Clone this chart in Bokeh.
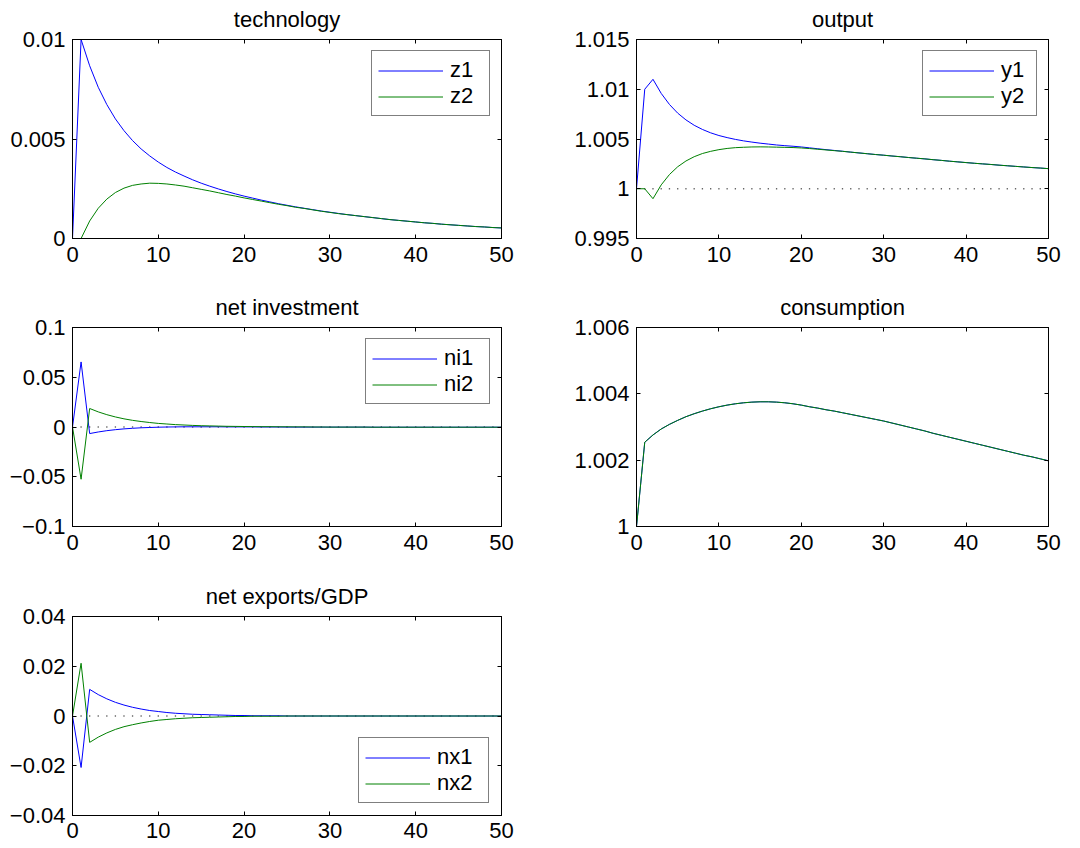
from bokeh.plotting import figure
from bokeh.layouts import column, row
from bokeh.models import Range1d, LinearAxis, FixedTicker, Legend
from bokeh.embed import file_html
from bokeh.resources import INLINE

T = list(range(0, 51))
X_TICKS = [0, 10, 20, 30, 40, 50]

Z1 = [0.0, 0.01, 0.00868, 0.00760, 0.00673, 0.00601, 0.00542, 0.00492, 0.00450, 0.00415, 0.00384,
      0.00357, 0.00334, 0.00314, 0.00295, 0.00278, 0.00263, 0.00249, 0.00236, 0.00224, 0.00213,
      0.00203, 0.00193, 0.00184, 0.00175, 0.00167, 0.00159, 0.00152, 0.00145, 0.00138, 0.00132,
      0.00126, 0.00120, 0.00115, 0.00110, 0.00105, 0.00100, 0.00095, 0.00091, 0.00087, 0.00083,
      0.00079, 0.00076, 0.00072, 0.00069, 0.00066, 0.00063, 0.00060, 0.00058, 0.00055, 0.00053]
Z2 = [0.0, 0.0, 0.00088, 0.00152, 0.00198, 0.00231, 0.00253, 0.00267, 0.00274, 0.00278, 0.00277,
      0.00274, 0.00269, 0.00263, 0.00255, 0.00247, 0.00239, 0.00230, 0.00221, 0.00213, 0.00204,
      0.00196, 0.00188, 0.00180, 0.00172, 0.00165, 0.00157, 0.00151, 0.00144, 0.00137, 0.00131,
      0.00125, 0.00120, 0.00115, 0.00110, 0.00105, 0.00100, 0.00095, 0.00091, 0.00087, 0.00083,
      0.00079, 0.00076, 0.00072, 0.00069, 0.00066, 0.00063, 0.00060, 0.00058, 0.00055, 0.00053]

Y1 = [1.0, 1.0100, 1.0110, 1.00958, 1.00847, 1.00760, 1.00692, 1.00638, 1.00596, 1.00562, 1.00535,
      1.00514, 1.00496, 1.00481, 1.00469, 1.00458, 1.00449, 1.00440, 1.00433, 1.00427, 1.00420,
      1.00411, 1.00402, 1.00393, 1.00385, 1.00377, 1.00368, 1.00360, 1.00352, 1.00344, 1.00337,
      1.00329, 1.00322, 1.00314, 1.00307, 1.00300, 1.00292, 1.00285, 1.00277, 1.00270, 1.00263,
      1.00256, 1.00250, 1.00244, 1.00237, 1.00231, 1.00225, 1.00219, 1.00213, 1.00208, 1.00202]
Y2 = [1.0, 1.0, 0.99900, 1.00039, 1.00143, 1.00221, 1.00279, 1.00322, 1.00354, 1.00376, 1.00393,
      1.00405, 1.00413, 1.00417, 1.00420, 1.00421, 1.00420, 1.00418, 1.00416, 1.00414, 1.00410,
      1.00404, 1.00397, 1.00390, 1.00383, 1.00376, 1.00368, 1.00360, 1.00352, 1.00344, 1.00337,
      1.00329, 1.00322, 1.00314, 1.00307, 1.00300, 1.00292, 1.00285, 1.00277, 1.00270, 1.00263,
      1.00256, 1.00250, 1.00244, 1.00237, 1.00231, 1.00225, 1.00219, 1.00213, 1.00208, 1.00202]

NI1 = [0.0, 0.0654, -0.0066, -0.0050, -0.0037, -0.0027, -0.0019, -0.0013, -0.0008, -0.0005, -0.0002,
       0.0000, 0.0001, 0.0002, 0.0002, 0.0002, 0.0002, 0.0002, 0.0001, 0.0001, 0.0001,
       0.0001, 0.0000, 0.0000, 0.0000, -0.0001, -0.0001, -0.0001, -0.0001, -0.0001, -0.0001,
       -0.0001, -0.0001, -0.0001, -0.0001, -0.0002, -0.0002, -0.0002, -0.0002, -0.0002, -0.0002,
       -0.0002, -0.0002, -0.0002, -0.0002, -0.0002, -0.0002, -0.0002, -0.0002, -0.0002, -0.0002]
NI2 = [0.0, -0.0525, 0.0186, 0.0152, 0.0124, 0.0101, 0.0082, 0.0067, 0.0055, 0.0045, 0.0036,
       0.0030, 0.0024, 0.0020, 0.0016, 0.0013, 0.0011, 0.0009, 0.0007, 0.0006, 0.0005,
       0.0004, 0.0003, 0.0003, 0.0002, 0.0002, 0.0001, 0.0001, 0.0000, 0.0000, -0.0001,
       -0.0001, -0.0001, -0.0001, -0.0001, -0.0002, -0.0002, -0.0002, -0.0002, -0.0002, -0.0002,
       -0.0002, -0.0002, -0.0002, -0.0002, -0.0002, -0.0002, -0.0002, -0.0002, -0.0002, -0.0002]

C1 = [1.0, 1.00254, 1.00276, 1.00294, 1.00308, 1.00320, 1.00331, 1.00340, 1.00348, 1.00355, 1.00361,
      1.00366, 1.00370, 1.00373, 1.00375, 1.00376, 1.00376, 1.00375, 1.00373, 1.00370, 1.00366,
      1.00361, 1.00357, 1.00352, 1.00348, 1.00343, 1.00338, 1.00333, 1.00328, 1.00323, 1.00318,
      1.00312, 1.00306, 1.00300, 1.00294, 1.00288, 1.00281, 1.00275, 1.00269, 1.00263, 1.00257,
      1.00251, 1.00245, 1.00239, 1.00233, 1.00227, 1.00221, 1.00215, 1.00210, 1.00204, 1.00198]
C2 = [1.0, 1.00254, 1.00276, 1.00294, 1.00308, 1.00320, 1.00331, 1.00340, 1.00348, 1.00355, 1.00361,
      1.00366, 1.00370, 1.00373, 1.00375, 1.00376, 1.00376, 1.00375, 1.00373, 1.00370, 1.00366,
      1.00361, 1.00357, 1.00352, 1.00348, 1.00343, 1.00338, 1.00333, 1.00328, 1.00323, 1.00318,
      1.00312, 1.00306, 1.00300, 1.00294, 1.00288, 1.00281, 1.00275, 1.00269, 1.00263, 1.00257,
      1.00251, 1.00245, 1.00239, 1.00233, 1.00227, 1.00221, 1.00215, 1.00210, 1.00204, 1.00198]

NX1 = [0.0, -0.0207, 0.0107, 0.0086, 0.0069, 0.0055, 0.0044, 0.0035, 0.0028, 0.0022, 0.0018,
       0.0014, 0.0011, 0.0009, 0.0007, 0.0006, 0.0005, 0.0004, 0.0003, 0.0002, 0.0002,
       0.0001, 0.0001, 0.0001, 0.0001, 0.0, 0.0, 0.0, 0.0, 0.0, 0.0,
       0.0, 0.0, 0.0, 0.0, 0.0, 0.0, 0.0, 0.0, 0.0, 0.0,
       0.0, 0.0, 0.0, 0.0, 0.0, 0.0, 0.0, 0.0, 0.0, 0.0]
NX2 = [0.0, 0.0212, -0.0106, -0.0085, -0.0068, -0.0054, -0.0043, -0.0035, -0.0028, -0.0022, -0.0017,
       -0.0014, -0.0011, -0.0009, -0.0007, -0.0006, -0.0005, -0.0004, -0.0003, -0.0002, -0.0002,
       -0.0001, -0.0001, -0.0001, -0.0001, 0.0, 0.0, 0.0, 0.0, 0.0, 0.0,
       0.0, 0.0, 0.0, 0.0, 0.0, 0.0, 0.0, 0.0, 0.0, 0.0,
       0.0, 0.0, 0.0, 0.0, 0.0, 0.0, 0.0, 0.0, 0.0, 0.0]

TECH_TICKS = [0, 0.005, 0.01]
TECH_LABELS = ["0", "0.005", "0.01"]
OUT_TICKS = [0.995, 1.0, 1.005, 1.01, 1.015]
OUT_LABELS = ["0.995", "1", "1.005", "1.01", "1.015"]
NI_TICKS = [-0.1, -0.05, 0, 0.05, 0.1]
NI_LABELS = ["\u22120.1", "\u22120.05", "0", "0.05", "0.1"]
CON_TICKS = [1.0, 1.002, 1.004, 1.006]
CON_LABELS = ["1", "1.002", "1.004", "1.006"]
NX_TICKS = [-0.04, -0.02, 0, 0.02, 0.04]
NX_LABELS = ["\u22120.04", "\u22120.02", "0", "0.02", "0.04"]
DOT_X = list(range(0, 51))

FONT = "Liberation Sans"
BLUE = "#0000ff"
GREEN = "#008000"


def make_fig(title, yr, yticks, ylabels, fw, left, right, top, bottom, xstand=8):
    p = figure(frame_width=fw, frame_height=199,
               x_range=Range1d(0, 50), y_range=Range1d(*yr),
               output_backend="svg", toolbar_location=None,
               min_border_left=left, min_border_right=right,
               min_border_top=top, min_border_bottom=bottom)
    p.background_fill_color = "white"
    p.border_fill_color = "white"
    p.outline_line_color = "black"
    p.outline_line_width = 1
    p.grid.visible = False
    p.title.text = title
    p.title.align = "center"
    p.title.text_font = FONT
    p.title.text_font_size = "22px"
    p.title.text_font_style = "normal"
    p.title.text_color = "black"
    p.title.standoff = 15

    xa = p.below[0]
    xa.ticker = FixedTicker(ticks=X_TICKS)
    ya = p.left[0]
    ya.ticker = FixedTicker(ticks=yticks)
    ya.major_label_overrides = {t: l for t, l in zip(yticks, ylabels)}
    for ax in (xa, ya):
        ax.major_tick_in = 4
        ax.major_tick_out = 0
        ax.minor_tick_line_color = None
        ax.axis_line_color = "black"
        ax.major_tick_line_color = "black"
        ax.major_label_text_font = FONT
        ax.major_label_text_font_size = "22px"
        ax.major_label_text_color = "black"
    xa.major_label_standoff = xstand
    ya.major_label_standoff = 7

    top_ax = LinearAxis(ticker=FixedTicker(ticks=X_TICKS), major_tick_in=4, major_tick_out=0,
                        minor_tick_line_color=None, axis_line_color="black",
                        major_tick_line_color="black", major_label_text_font_size="1px",
                        major_label_text_color=None, major_label_standoff=0)
    right_ax = LinearAxis(ticker=FixedTicker(ticks=yticks), major_tick_in=4, major_tick_out=0,
                          minor_tick_line_color=None, axis_line_color="black",
                          major_tick_line_color="black", major_label_text_font_size="1px",
                          major_label_text_color=None, major_label_standoff=0)
    p.add_layout(top_ax, "above")
    p.add_layout(right_ax, "right")
    return p


def add_legend(p, items, loc, label_w, margin):
    leg = Legend(items=items, location=loc, margin=margin, padding=6, spacing=0,
                 glyph_width=65, glyph_height=25, label_height=25, label_width=label_w,
                 label_standoff=7, label_text_font=FONT, label_text_font_size="22px",
                 label_text_color="black", border_line_color="black", border_line_width=1,
                 background_fill_color="white", background_fill_alpha=1.0)
    p.add_layout(leg)


# technology
p1 = make_fig("technology", (0, 0.01), TECH_TICKS, TECH_LABELS, 429, 72, 30, 37, 47)
a = p1.line(T, Z1, line_color=BLUE, line_width=1)
b = p1.line(T, Z2, line_color=GREEN, line_width=1)
add_legend(p1, [("z1", [a]), ("z2", [b])], "top_right", 33, 11)

# output
p2 = make_fig("output", (0.995, 1.015), OUT_TICKS, OUT_LABELS, 412, 105, 20, 37, 47)
p2.scatter(DOT_X, [1.0] * len(DOT_X), marker="square", size=1.3, fill_color="#666666", line_color=None)
a = p2.line(T, Y1, line_color=BLUE, line_width=1)
b = p2.line(T, Y2, line_color=GREEN, line_width=1)
add_legend(p2, [("y1", [a]), ("y2", [b])], "top_right", 29, 11)

# net investment
p3 = make_fig("net investment", (-0.1, 0.1), NI_TICKS, NI_LABELS, 429, 72, 30, 37, 48)
p3.scatter(DOT_X, [0.0] * len(DOT_X), marker="square", size=1.3, fill_color="#666666", line_color=None)
a = p3.line(T, NI1, line_color=BLUE, line_width=1)
b = p3.line(T, NI2, line_color=GREEN, line_width=1)
add_legend(p3, [("ni1", [a]), ("ni2", [b])], "top_right", 39, 11)

# consumption
p4 = make_fig("consumption", (1.0, 1.006), CON_TICKS, CON_LABELS, 412, 105, 20, 37, 48)
p4.line(T, C1, line_color=BLUE, line_width=1)
p4.line(T, C2, line_color=GREEN, line_width=1)

# net exports/GDP
p5 = make_fig("net exports/GDP", (-0.04, 0.04), NX_TICKS, NX_LABELS, 429, 72, 30, 37, 36, xstand=7)
p5.scatter(DOT_X, [0.0] * len(DOT_X), marker="square", size=1.3, fill_color="#666666", line_color=None)
a = p5.line(T, NX1, line_color=BLUE, line_width=1)
b = p5.line(T, NX2, line_color=GREEN, line_width=1)
add_legend(p5, [("nx1", [a]), ("nx2", [b])], "bottom_right", 45, 12)

layout = column(row(p1, p2), row(p3, p4), row(p5), styles={"margin-top": "-3px"})
open("out.html", "w").write(file_html(layout, INLINE))
